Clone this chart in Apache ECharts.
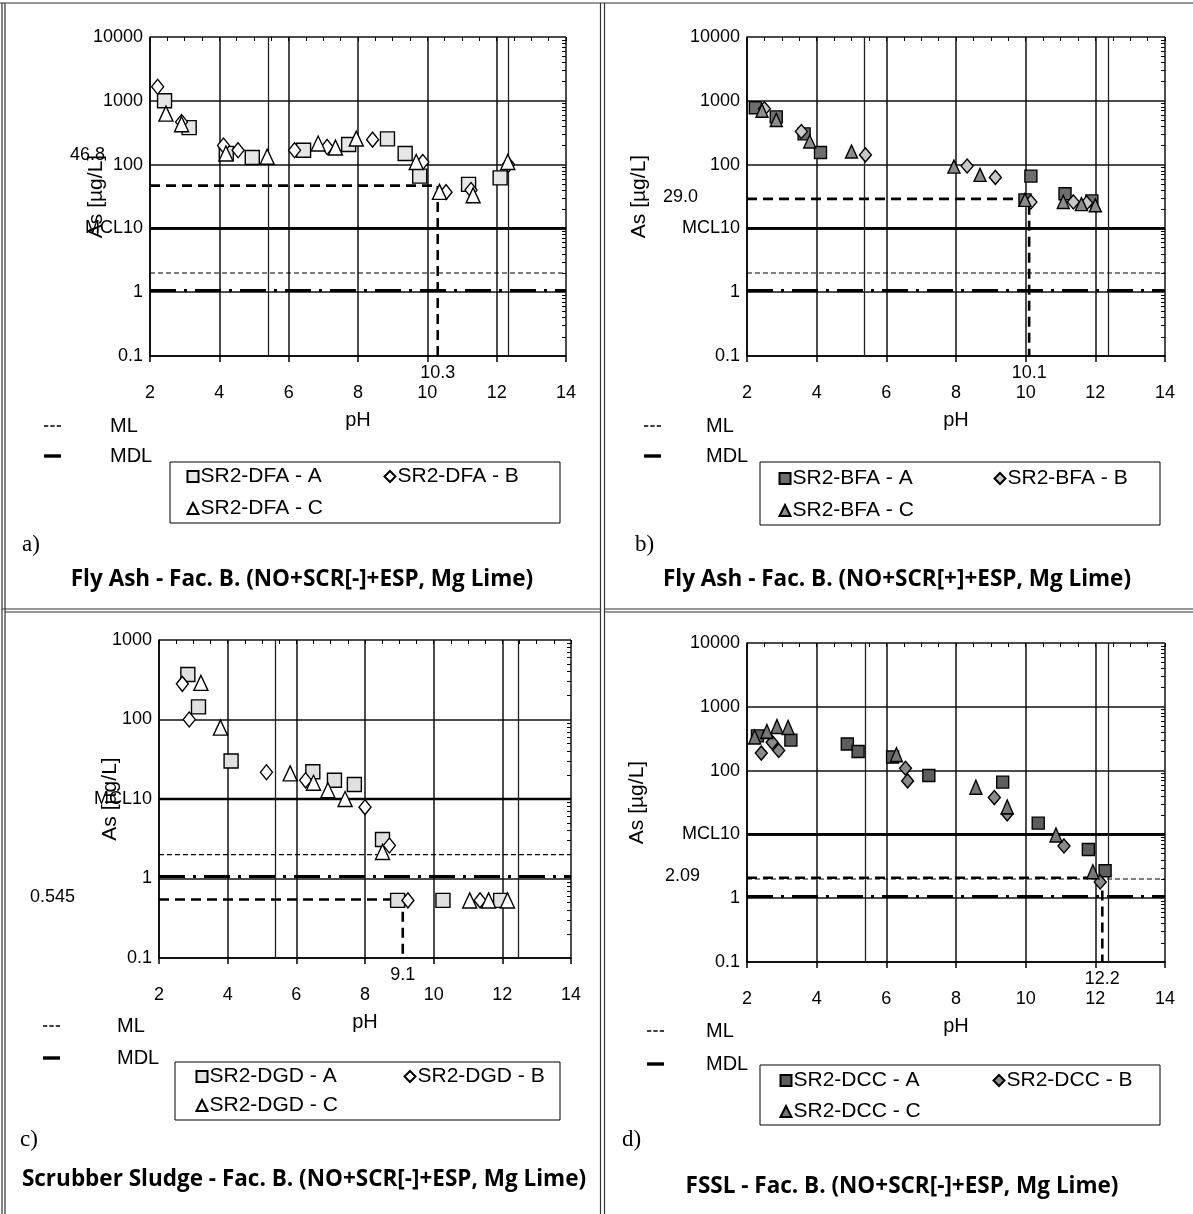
<!DOCTYPE html>
<html><head><meta charset="utf-8">
<script src="https://cdn.jsdelivr.net/npm/echarts@6/dist/echarts.min.js"></script>
<style>html,body{margin:0;padding:0;background:#fff}#c{width:1193px;height:1214px}</style>
</head><body><div id="c"></div>
<script>
// ---------------- DATA ----------------
const pHTicks = [2, 4, 6, 8, 10, 12, 14];
const yMaxes = [10000, 10000, 1000, 10000];

// Panel a — Fly Ash SR2-DFA
const dfaA = [[2.42,1000],[3.13,380],[4.2,150],[4.95,129],[6.43,168],[7.73,207],[8.85,253],[9.36,149],[9.78,66],[11.19,49],[12.1,62]];
const dfaB = [[2.22,1660],[2.91,465],[4.12,199],[4.54,168],[6.17,168],[7.11,189],[8.42,246],[9.87,110],[10.54,37],[11.26,40],[12.34,100]];
const dfaC = [[2.46,630],[2.91,430],[4.19,149],[5.38,133],[6.85,214],[7.35,185],[7.95,256],[9.68,110],[10.35,37.4],[11.32,33],[12.32,110]];
// Panel b — Fly Ash SR2-BFA
const bfaA = [[2.24,780],[2.84,560],[3.64,303],[4.11,155],[10.15,66],[9.98,28],[11.13,35],[11.9,27]];
const bfaB = [[2.5,750],[3.56,330],[5.4,142],[8.32,95],[9.13,63],[10.15,26],[11.37,26],[11.75,25]];
const bfaC = [[2.43,700],[2.84,500],[3.8,230],[5.0,160],[7.94,93],[8.69,69],[9.98,28],[11.08,26],[11.6,24],[12.0,23]];
// Panel c — Scrubber sludge SR2-DGD
const dgdA = [[2.84,368],[3.15,144],[4.10,30],[6.48,22],[7.11,17.2],[7.69,15.2],[8.51,3.1],[8.95,0.53],[10.27,0.53],[11.95,0.53]];
const dgdB = [[2.68,281],[2.88,100],[5.13,21.7],[6.27,17.2],[8.0,7.9],[8.71,2.6],[9.25,0.53],[11.35,0.53]];
const dgdC = [[3.22,289],[3.79,79],[5.82,21],[6.50,16],[6.92,12.9],[7.42,10],[8.51,2.16],[11.05,0.53],[11.6,0.53],[12.15,0.53]];
// Panel d — FSSL SR2-DCC
const dccA = [[2.3,350],[3.26,300],[4.88,261],[5.19,199],[6.18,163],[7.22,84],[9.34,66],[10.36,15],[11.8,5.8],[12.28,2.7]];
const dccB = [[2.41,188],[2.72,277],[2.91,207],[6.55,109],[6.61,69],[9.10,37.8],[9.47,21],[11.1,6.6],[12.14,1.8]];
const dccC = [[2.22,336],[2.57,412],[2.86,490],[3.18,475],[6.29,178],[8.57,55],[9.47,27],[10.87,9.8],[11.93,2.6]];

const seriesNames = [
  ['SR2-DFA - A','SR2-DFA - B','SR2-DFA - C'],
  ['SR2-BFA - A','SR2-BFA - B','SR2-BFA - C'],
  ['SR2-DGD - A','SR2-DGD - B','SR2-DGD - C'],
  ['SR2-DCC - A','SR2-DCC - B','SR2-DCC - C']
];
const seriesData = [[dfaA,dfaB,dfaC],[bfaA,bfaB,bfaC],[dgdA,dgdB,dgdC],[dccA,dccB,dccC]];

// reference levels
const mclLevel = 10;
const mlLevel = 2.0;
const mdlLevel = 1.06;
const cutConc = [46.8, 29.0, 0.545, 2.09];
const cutConcLabel = ['46.8', '29.0', '0.545', '2.09'];
const cutPH = [10.3, 10.1, 9.1, 12.2];
const cutPHLabel = ['10.3', '10.1', '9.1', '12.2'];
const extraPH = [[5.4, 12.33], [5.38, 12.36], [5.4, 12.45], [5.4, 12.36]];
const captions = [
  'Fly Ash - Fac. B. (NO+SCR[-]+ESP, Mg Lime)',
  'Fly Ash - Fac. B. (NO+SCR[+]+ESP, Mg Lime)',
  'Scrubber Sludge - Fac. B. (NO+SCR[-]+ESP, Mg Lime)',
  'FSSL - Fac. B. (NO+SCR[-]+ESP, Mg Lime)'
];
const panelTags = ['a)', 'b)', 'c)', 'd)'];

// ---------------- LAYOUT / STYLE ----------------
const FONT = 'Liberation Sans, Arial, sans-serif';
const grids = [
  {left:150, top:37, width:416, height:319},
  {left:747, top:37, width:418, height:319},
  {left:159, top:640, width:412, height:318},
  {left:747, top:643, width:418, height:319}
];
const yNameGap = [43, 97, 38, 99];
const styleSets = [
  ['#e6e6e6','#ffffff','#ffffff'],
  ['#6e6e6e','#c8c8c8','#8c8c8c'],
  ['#e0e0e0','#ffffff','#ffffff'],
  ['#5e5e5e','#8a8a8a','#777777']
];
const symbols = ['rect','diamond','triangle'];
const symSizes = [[14,[12,15],[14,15]],[12,[12,14],[12,13]],[14,[12,15],[14,15]],[12,[12,14],[12,14]]];
const mlLegendPos = [
  {left:44, top:416, pad:44, gap:10},
  {left:644, top:416, pad:40, gap:10},
  {left:43, top:1016, pad:52, gap:12},
  {left:647, top:1021, pad:37, gap:13}
];
const boxPos = [
  {x:170,y:462,w:390,h:61, iconA:192, iconB:389, row1:478, row2:510},
  {x:760,y:462,w:400,h:63, iconA:784, iconB:999, row1:480, row2:512},
  {x:175,y:1062,w:385,h:58, iconA:201, iconB:409, row1:1078, row2:1107},
  {x:760,y:1065,w:400,h:60, iconA:785, iconB:998, row1:1082, row2:1113}
];
const tagPos = [[22,545],[635,545],[20,1140],[622,1140]];
const capPos = [[302,580],[897,580],[304,1180],[902,1187]];
const ML_ICON = 'path://M0,0h4v1.4h-4z M6,0h4v1.4h-4z M12,0h4v1.4h-4z';
const MDL_ICON = 'path://M0,0h17v3.4h-17z';

function logTicks(min, max) {
  const out = [];
  for (let d = Math.log10(min); d < Math.log10(max) - 1e-9; d++) {
    for (let k = 2; k <= 9; k++) out.push(+(k * Math.pow(10, d)).toPrecision(3));
  }
  return out;
}

const option = {
  backgroundColor: '#fff',
  animation: false,
  grid: grids.map(g => Object.assign({containLabel:false, show:false}, g)),
  xAxis: [], yAxis: [], series: [], legend: []
};

for (let i = 0; i < 4; i++) {
  option.xAxis.push({
    type:'value', gridIndex:i, min:2, max:14, interval:2,
    name:'pH', nameLocation:'middle', nameGap:54, nameMoveOverlap:false,
    nameTextStyle:{fontFamily:FONT, fontSize:20, color:'#000'},
    axisLine:{show:true, lineStyle:{color:'#000', width:1.5}},
    axisTick:{show:true, inside:false, length:6, lineStyle:{color:'#000', width:1.5}},
    axisLabel:{fontFamily:FONT, fontSize:18, color:'#000', margin:28, formatter: v => pHTicks.includes(v) ? String(v) : ''},
    splitLine:{show:true, lineStyle:{color:'#111', width:1.5}}
  });
  option.xAxis.push({
    type:'value', gridIndex:i, min:2, max:14, interval:0.5,
    axisLine:{show:false}, axisLabel:{show:false}, splitLine:{show:false},
    axisTick:{show:true, inside:true, length:4, lineStyle:{color:'#000', width:1}}
  });
  option.yAxis.push({
    type:'log', logBase:10, gridIndex:i, min:0.1, max:yMaxes[i],
    name:'As [µg/L]', nameLocation:'middle', nameGap:yNameGap[i], nameRotate:90, nameMoveOverlap:false,
    nameTextStyle:{fontFamily:FONT, fontSize:21, color:'#000'},
    axisLine:{show:true, lineStyle:{color:'#000', width:1.5}},
    axisTick:{show:false},
    axisLabel:{fontFamily:FONT, fontSize:18, color:'#000', margin:7,
      formatter: v => (Math.abs(v - 10) < 1e-9 ? 'MCL10' : String(+v.toPrecision(3)))},
    splitLine:{show:true, lineStyle:{color:'#111', width:1.5}}
  });
  option.yAxis.push({
    type:'log', logBase:10, gridIndex:i, min:0.1, max:yMaxes[i],
    axisLine:{show:false}, axisLabel:{show:false}, splitLine:{show:false},
    axisTick:{show:true, inside:true, length:4, customValues: logTicks(0.1, yMaxes[i]), lineStyle:{color:'#000', width:1}}
  });

  const xi = 2*i, yi = 2*i;
  option.series.push({
    type:'line', name:'MCL', xAxisIndex:xi, yAxisIndex:yi, symbol:'none', silent:true, z:3,
    data:[[2, mclLevel],[14, mclLevel]], itemStyle:{color:'#000'}, lineStyle:{color:'#000', width:2.6},
    markLine:{silent:true, symbol:'none', label:{show:false},
      lineStyle:{color:'#222', width:1.3, type:'solid'},
      data: extraPH[i].map(v => ({xAxis: v}))}
  });
  option.series.push({
    type:'line', name:'ML', xAxisIndex:xi, yAxisIndex:yi, symbol:'none', silent:true, z:3,
    data:[[2, mlLevel],[14, mlLevel]], itemStyle:{color:'#000'}, lineStyle:{color:'#000', width:1.2, type:[5,3]}
  });
  option.series.push({
    type:'line', name:'MDL', xAxisIndex:xi, yAxisIndex:yi, symbol:'none', silent:true, z:3,
    data:[[2, mdlLevel],[14, mdlLevel]], itemStyle:{color:'#000'}, lineStyle:{color:'#000', width:3, type:[26,8,3,8]}
  });
  option.series.push({
    type:'line', name:'cut'+i, xAxisIndex:xi, yAxisIndex:yi, symbol:'none', silent:true, z:4,
    data:[[2, cutConc[i]],[cutPH[i], cutConc[i]],[cutPH[i], 0.1]], itemStyle:{color:'#000'},
    lineStyle:{color:'#000', width:2.6, type:[10,6]}
  });
  for (let s = 0; s < 3; s++) {
    option.series.push({
      type:'scatter', name:seriesNames[i][s], xAxisIndex:xi, yAxisIndex:yi, z:10,
      symbol:symbols[s], symbolSize:symSizes[i][s],
      itemStyle:{color:styleSets[i][s], borderColor:'#000', borderWidth:1.4, opacity:1},
      data:seriesData[i][s]
    });
  }
  const mp = mlLegendPos[i];
  option.legend.push({
    orient:'vertical', left:mp.left, top:mp.top, padding:0,
    itemWidth:17, itemHeight:10, itemGap:mp.gap, selectedMode:false,
    data:[{name:'ML', icon:ML_ICON}, {name:'MDL', icon:MDL_ICON}],
    textStyle:{fontFamily:FONT, fontSize:20, color:'#000', padding:[0,0,0,mp.pad]}
  });
  const bp = boxPos[i];
  const rowItems = [[0, bp.iconA, bp.row1], [1, bp.iconB, bp.row1], [2, bp.iconA, bp.row2]];
  rowItems.forEach(r => {
    option.legend.push({
      orient:'horizontal', left:r[1] - 5.5, top:r[2] - 12, padding:0,
      itemWidth:11, itemHeight:11, itemGap:0, selectedMode:false,
      data:[seriesNames[i][r[0]]],
      textStyle:{fontFamily:FONT, fontSize:21, color:'#000', padding:[0,0,0,-3]}
    });
  });
}

const chart = echarts.init(document.getElementById('c'), null, {renderer:'canvas'});
chart.setOption(option);

const g = [];
for (let i = 0; i < 4; i++) {
  const f = {xAxisIndex:2*i, yAxisIndex:2*i};
  const pY = chart.convertToPixel(f, [2, cutConc[i]]);
  const pX = chart.convertToPixel(f, [cutPH[i], 0.1]);
  const dy = i === 0 ? -31 : -2;
  const dx = [-45, -49, -84, -47][i];
  g.push({type:'text', x:pY[0] + dx, y:pY[1] + dy, z:50,
    style:{text:cutConcLabel[i], fill:'#000', font:'18px ' + FONT, textAlign:'right', textVerticalAlign:'middle'}});
  g.push({type:'text', x:pX[0], y:pX[1] + 17, z:50,
    style:{text:cutPHLabel[i], fill:'#000', font:'18px ' + FONT, textAlign:'center', textVerticalAlign:'middle'}});
  const bp = boxPos[i];
  g.push({type:'rect', shape:{x:bp.x, y:bp.y, width:bp.w, height:bp.h}, z:1,
    style:{fill:null, stroke:'#000', lineWidth:1}});
  g.push({type:'text', x:tagPos[i][0], y:tagPos[i][1], z:50,
    style:{text:panelTags[i], fill:'#000', font:'23px Liberation Serif, Times New Roman, serif', textVerticalAlign:'middle'}});
  g.push({type:'text', x:capPos[i][0], y:capPos[i][1], z:50,
    style:{text:captions[i], fill:'#000', font:'bold 22.5px Open Sans, Lato, sans-serif', textAlign:'center', textVerticalAlign:'middle'}});
}
const frameLines = [
  [0,3,1193,3],
  [2,3,2,1214],[5,3,5,1214],
  [600.5,3,600.5,1214],[604.5,3,604.5,1214],
  [2,609,600,609],[5,612,600,612],
  [604,609,1193,609],[604,612,1193,612]
];
frameLines.forEach(l => g.push({type:'line', shape:{x1:l[0],y1:l[1],x2:l[2],y2:l[3]}, z:1,
  style:{stroke:'#333', lineWidth:1.2}}));
chart.setOption({graphic:{elements:g}});
</script>
</body></html>
